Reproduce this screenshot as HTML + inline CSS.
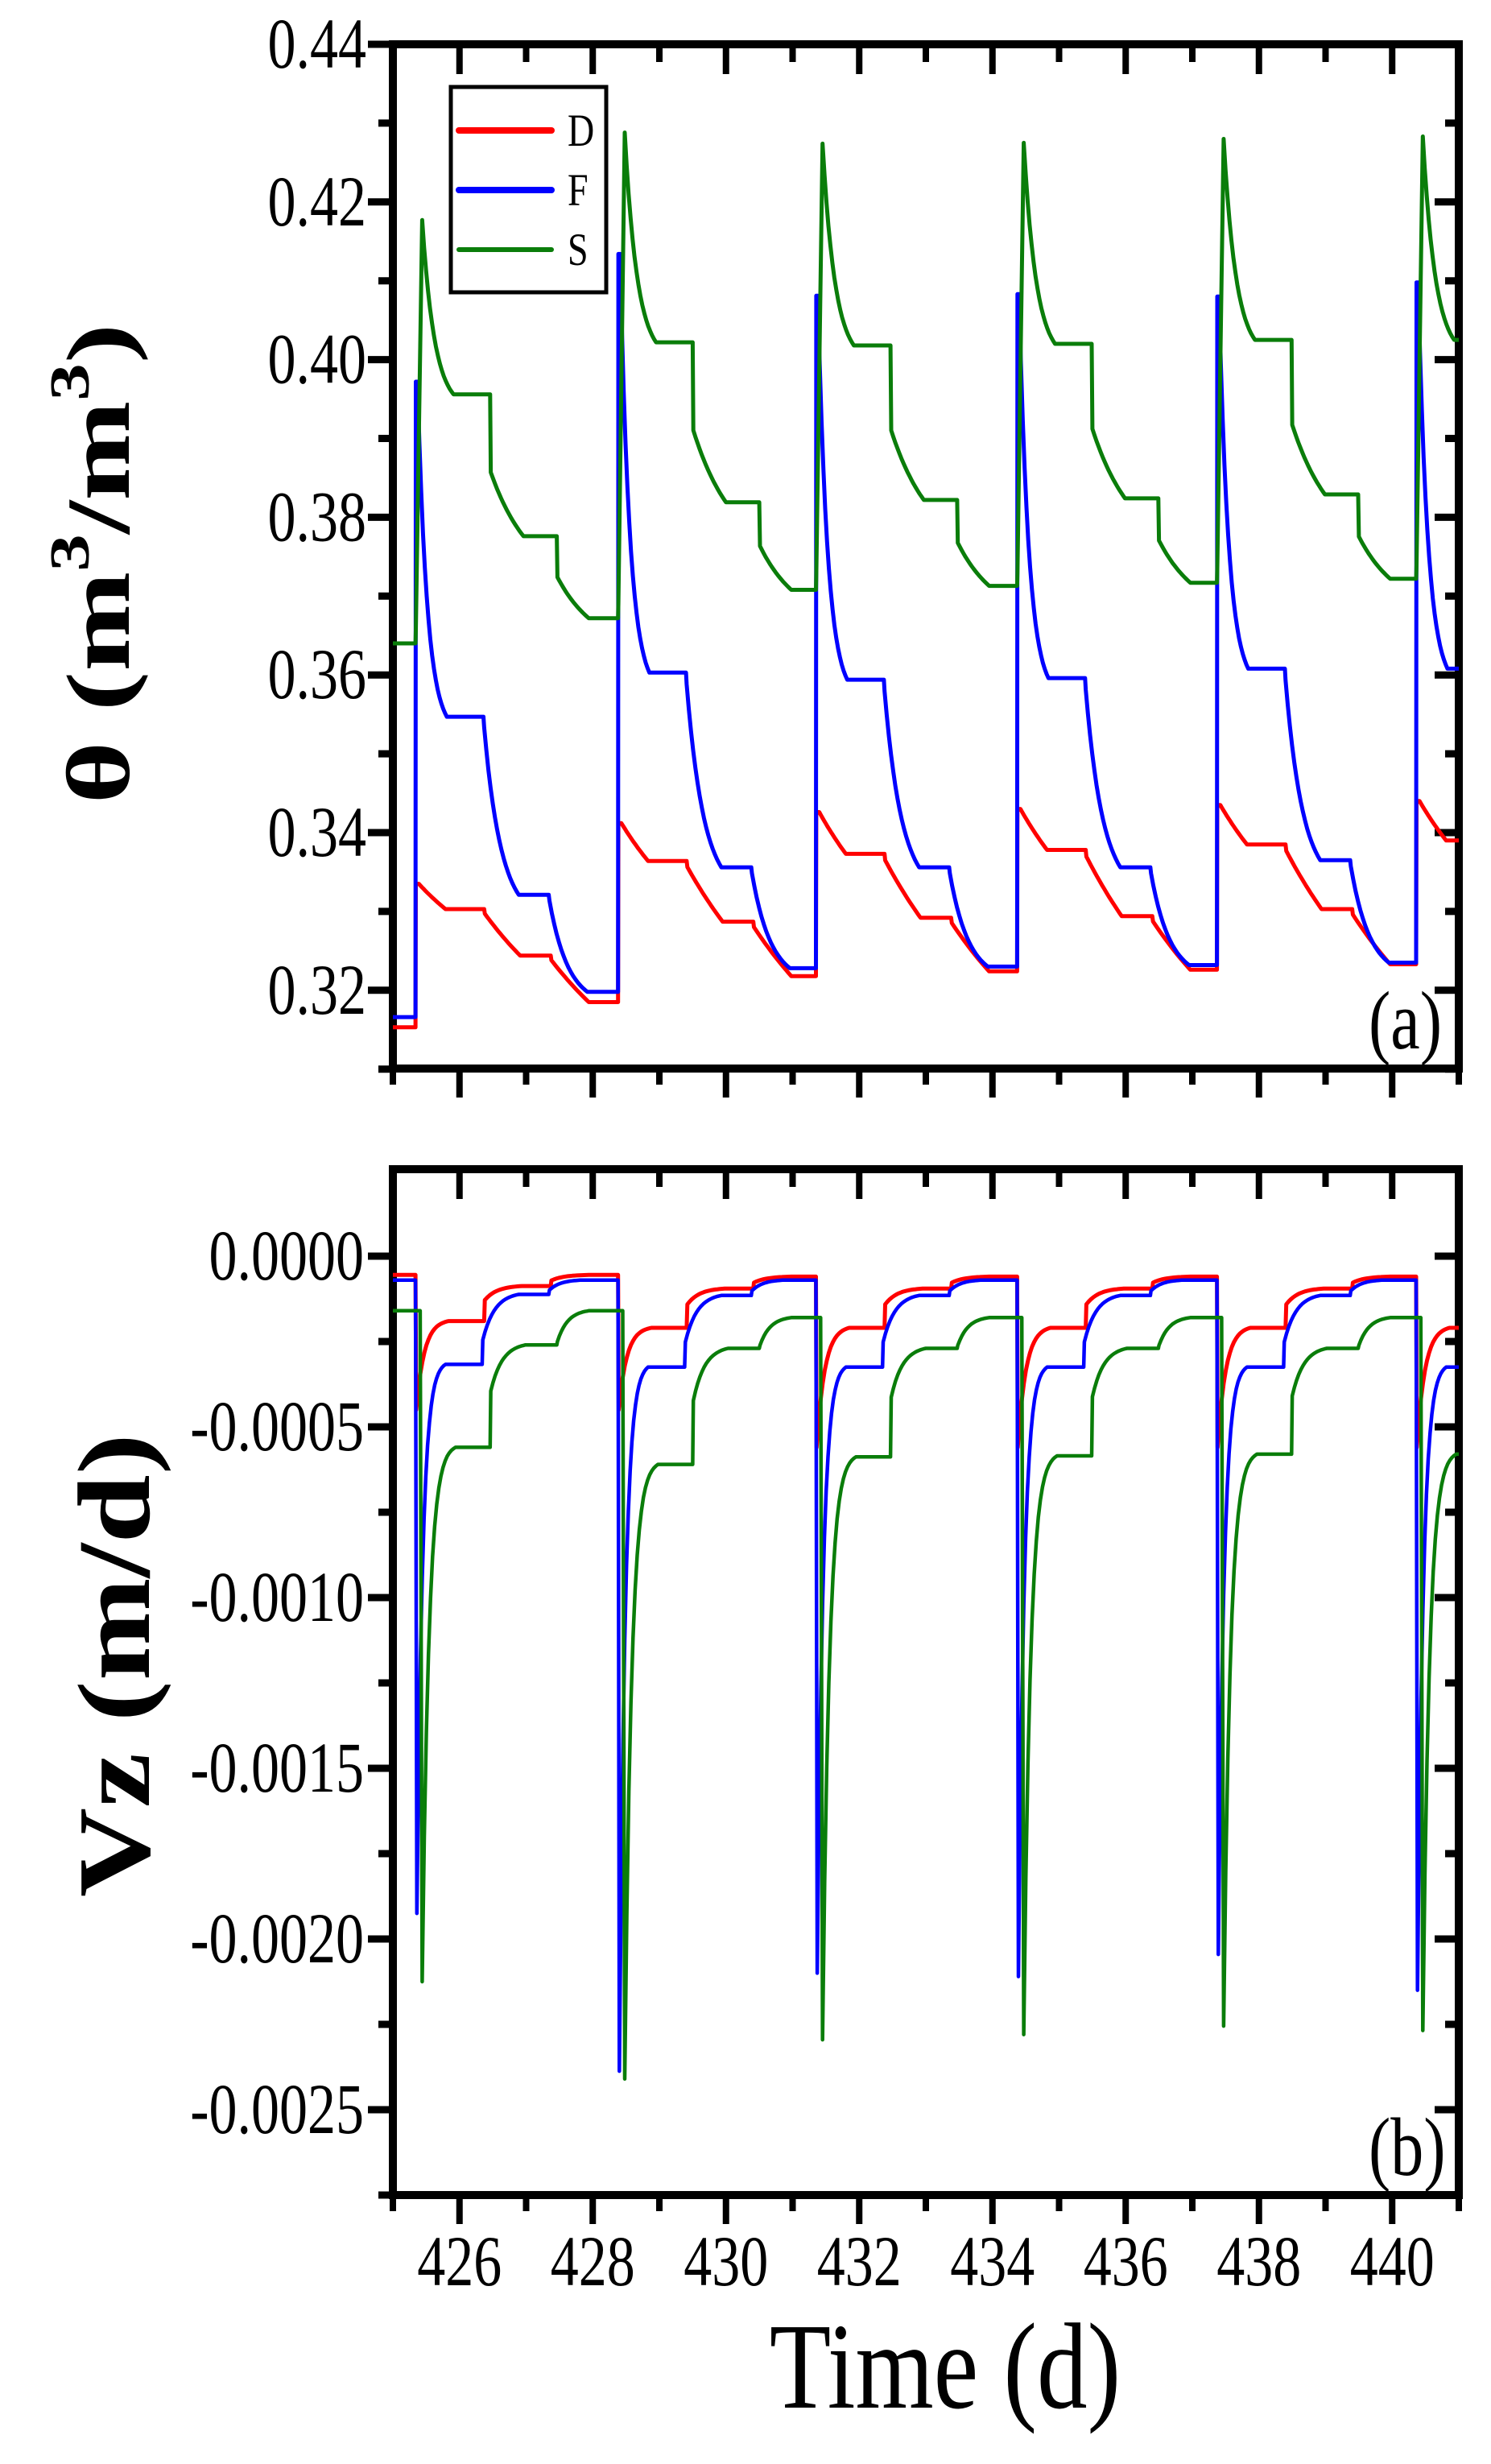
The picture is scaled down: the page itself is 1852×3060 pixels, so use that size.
<!DOCTYPE html>
<html><head><meta charset="utf-8"><style>
html,body{margin:0;padding:0;background:#fff;}
svg{display:block;}
text{font-family:"Liberation Serif","Times New Roman",serif;fill:#000;}
</style></head><body>
<svg id="fig" width="1852" height="3060" viewBox="0 0 1852 3060" xmlns="http://www.w3.org/2000/svg" font-family="Liberation Serif, serif">
<defs>
<clipPath id="clipA"><rect x="488" y="55" width="1324" height="1272"/></clipPath>
<clipPath id="clipB"><rect x="488" y="1452" width="1324" height="1274"/></clipPath>
</defs>
<g id="gA"></g>
<g id="gB"></g>
</svg>
<script>
// ---- data ----
const cycleStarts = [425.34, 428.38, 431.35, 434.37, 437.37, 440.36];
const xTicksMajor = [426, 428, 430, 432, 434, 436, 438, 440];
const xTickLabels = ["426","428","430","432","434","436","438","440"];
const thetaTicks = [0.32, 0.34, 0.36, 0.38, 0.40, 0.42, 0.44];
const thetaTickLabels = ["0.32","0.34","0.36","0.38","0.40","0.42","0.44"];
const vzTicks = [0, -0.0005, -0.001, -0.0015, -0.002, -0.0025];
const vzTickLabels = ["0.0000","-0.0005","-0.0010","-0.0015","-0.0020","-0.0025"];

// panel (a) theta, per cycle
const thetaInitD = 0.3153, thetaInitF = 0.3166, thetaInitS = 0.364;
const thetaPeakD = [0.3335, 0.3412, 0.3426, 0.3430, 0.3435, 0.3440];
const thetaP1D   = [0.3303, 0.3364, 0.3373, 0.3378, 0.3385, 0.3390];
const thetaP2D   = [0.3244, 0.3287, 0.3292, 0.3294, 0.3303, 0.3305];
const thetaMinD  = [0.3185, 0.3218, 0.3224, 0.3226, 0.3233, 0.3235];
const thetaPeakF = [0.3972, 0.4134, 0.4081, 0.4083, 0.4080, 0.4098];
const thetaP1F   = [0.3547, 0.3603, 0.3594, 0.3596, 0.3608, 0.3608];
const thetaP2F   = [0.3321, 0.3356, 0.3356, 0.3356, 0.3365, 0.3365];
const thetaMinF  = [0.3198, 0.3228, 0.3230, 0.3232, 0.3235, 0.3235];
const thetaPeakS = [0.4177, 0.4288, 0.4274, 0.4275, 0.4280, 0.4283];
const thetaP1S   = [0.3956, 0.4022, 0.4018, 0.4020, 0.4025, 0.4025];
const thetaP2S   = [0.3776, 0.3819, 0.3822, 0.3824, 0.3829, 0.3829];
const thetaMinS  = [0.3672, 0.3708, 0.3713, 0.3717, 0.3722, 0.3722];

// panel (b) Vz, per cycle
const vzInitD = -0.000055, vzInitF = -0.00007, vzInitS = -0.00016;
const vzMinD = [-0.00045, -0.00045, -0.00056, -0.00056, -0.00056, -0.00056];
const vzP1D  = [-0.00019, -0.00021, -0.00021, -0.00021, -0.00021, -0.00021];
const vzP2D  = [-0.0000875, -0.000095, -0.000095, -0.000095, -0.000095, -0.000095];
const vzP3D  = [-0.000055, -0.00006, -0.00006, -0.00006, -0.00006, -0.00006];
const vzMinF = [-0.001925, -0.002387, -0.0021, -0.00211, -0.002045, -0.00215];
const vzP1F  = [-0.000317, -0.000325, -0.000325, -0.000325, -0.000325, -0.000325];
const vzP2F  = [-0.000112, -0.000115, -0.000115, -0.000115, -0.000115, -0.000115];
const vzP3F  = [-0.00007, -0.00007, -0.00007, -0.00007, -0.00007, -0.00007];
const vzMinS = [-0.002125, -0.00241, -0.002295, -0.00228, -0.002255, -0.002268];
const vzP1S  = [-0.00056, -0.00061, -0.000588, -0.000585, -0.00058, -0.00058];
const vzP2S  = [-0.00026, -0.00027, -0.00027, -0.00027, -0.00027, -0.00027];
const vzP3S  = [-0.00016, -0.00018, -0.00018, -0.00018, -0.00018, -0.00018];

// ---- scales ----
const X0 = 488, X1 = 1812, T0 = 425, T1 = 441;
function xs(t){ return X0 + (t - T0) * (X1 - X0) / (T1 - T0); }
function ya(v){ return 55 + (0.44 - v) / 0.02 * 195.8; }
function yb(v){ return 1560 + (0 - v) / 0.0005 * 212; }

const NS = "http://www.w3.org/2000/svg";
function mk(tag, attrs, parent){
  const e = document.createElementNS(NS, tag);
  for (const k in attrs) e.setAttribute(k, attrs[k]);
  parent.appendChild(e);
  return e;
}
function decayPts(pts, t0, t1, v0, v1, k){
  const n = 16;
  for (let i = 1; i <= n; i++){
    const s = i / n;
    let f = (k < 0.01) ? s : (1 - Math.exp(-k * s)) / (1 - Math.exp(-k));
    pts.push([t0 + (t1 - t0) * s, v0 + (v1 - v0) * f]);
  }
}
function buildTheta(init, peak, p1, p2, mn, o){
  const pts = [[T0, init]];
  let prev = init;
  for (let i = 0; i < cycleStarts.length; i++){
    const T = cycleStarts[i];
    pts.push([T, prev]);
    pts.push([T + 0.005, peak[i] - (peak[i]-prev)*o.rise]);
    pts.push([T + o.pk, peak[i]]);
    decayPts(pts, T + o.pk, T + o.p1s, peak[i], p1[i], o.k1);
    pts.push([T + o.p1e, p1[i]]);
    const d1 = p1[i] + (p2[i]-p1[i]) * o.dr1;
    pts.push([T + o.p1e + 0.01, d1]);
    decayPts(pts, T + o.p1e + 0.01, T + o.p2s, d1, p2[i], o.k2);
    pts.push([T + o.p2e, p2[i]]);
    const d2 = p2[i] + (mn[i]-p2[i]) * o.dr2;
    pts.push([T + o.p2e + 0.01, d2]);
    decayPts(pts, T + o.p2e + 0.01, T + o.p3s, d2, mn[i], o.k3);
    prev = mn[i];
  }
  pts.push([T1 + 1, prev]);
  return pts;
}
function buildVz(init, mn, p1, p2, p3, o){
  const pts = [[T0, init]];
  let prev = init;
  for (let i = 0; i < cycleStarts.length; i++){
    const T = cycleStarts[i];
    pts.push([T + o.d0, prev]);
    pts.push([T + o.dm, mn[i]]);
    decayPts(pts, T + o.dm, T + o.p1s, mn[i], p1[i], o.k1);
    pts.push([T + o.p1e, p1[i]]);
    const j1 = p1[i] + (p2[i]-p1[i]) * o.j1;
    pts.push([T + o.p1e + 0.01, j1]);
    decayPts(pts, T + o.p1e + 0.01, T + o.p2s, j1, p2[i], o.k2);
    pts.push([T + o.p2e, p2[i]]);
    const j2 = p2[i] + (p3[i]-p2[i]) * o.j2;
    pts.push([T + o.p2e + 0.01, j2]);
    decayPts(pts, T + o.p2e + 0.01, T + o.p3s, j2, p3[i], o.k3);
    prev = p3[i];
  }
  pts.push([T1 + 1, prev]);
  return pts;
}
function toPath(pts, yf){
  return pts.map((p,i)=>(i?"L":"M")+xs(p[0]).toFixed(1)+","+yf(p[1]).toFixed(1)).join("");
}

const gA = document.getElementById("gA");
const gB = document.getElementById("gB");
const RED = "#ff0000", BLUE = "#0000ff", GREEN = "#0a7d0a";
const FONT = "Liberation Serif, Times New Roman, serif";

function drawFrame(g, top, bot, name){
  for (let d = 425; d <= 441; d++){
    const major = (d % 2 === 0);
    const x = xs(d);
    const t1 = mk("line", {x1:x, y1:top, x2:x, y2: top + (major?37:22), stroke:"#000","stroke-width":8}, g);
    
    
    const t2 = mk("line", {x1:x, y1:bot, x2:x, y2: bot + (major?36:20), stroke:"#000","stroke-width":8}, g);
    
    
  }
  const r = mk("rect", {x:X0, y:top, width:X1-X0, height:bot-top, fill:"none", stroke:"#000", "stroke-width":10}, g);
  
  
}
function yTick(g, y, major){
  const a = mk("line", {x1:X0 - (major?31:18), y1:y, x2:X0, y2:y, stroke:"#000","stroke-width":9}, g);
  
  
  const b = mk("line", {x1:X1, y1:y, x2:X1 - (major?30:17), y2:y, stroke:"#000","stroke-width":9}, g);
  
  
}
function label(g, txt, x, y, size, anchor, sy, name){
  const t = mk("text", {x:0, y:0, "font-size":size, "text-anchor":anchor, "font-family":FONT,
    transform:"translate("+x+","+y+") scale(1,"+sy+")"}, g);
  t.textContent = txt;
  
  
  return t;
}

// ---------- panel A ----------
drawFrame(gA, 55, 1327, "panel-a");
for (let i = 0; i < thetaTicks.length; i++){
  yTick(gA, ya(thetaTicks[i]), true);
  label(gA, thetaTickLabels[i], 455, ya(thetaTicks[i]) + 29, 70, "end", 1.27, "y-tick-label");
}
for (let v = 0.31; v < 0.44; v += 0.02) yTick(gA, ya(v), false);

const linesA = mk("g", {"clip-path":"url(#clipA)", fill:"none", "stroke-linejoin":"round"}, gA);
const oD = {rise:0, pk:0.05, k1:0.3, p1s:0.45, p1e:1.03, dr1:0.1, k2:0.3, p2s:1.57, p2e:2.03, dr2:0.1, k3:0.3, p3s:2.6};
const oF = {rise:0, pk:0.03, k1:3, p1s:0.47, p1e:1.02, dr1:0.06, k2:2, p2s:1.55, p2e:2.0, dr2:0.06, k3:2, p3s:2.58};
const oS = {rise:0.97, pk:0.1, k1:2.5, p1s:0.57, p1e:1.12, dr1:0.55, k2:0.8, p2s:1.62, p2e:2.12, dr2:0.5, k3:0.8, p3s:2.6};
const pD = mk("path", {d: toPath(buildTheta(thetaInitD, thetaPeakD, thetaP1D, thetaP2D, thetaMinD, oD), ya), stroke:RED, "stroke-width":5}, linesA);


const pF = mk("path", {d: toPath(buildTheta(thetaInitF, thetaPeakF, thetaP1F, thetaP2F, thetaMinF, oF), ya), stroke:BLUE, "stroke-width":5}, linesA);


const pS = mk("path", {d: toPath(buildTheta(thetaInitS, thetaPeakS, thetaP1S, thetaP2S, thetaMinS, oS), ya), stroke:GREEN, "stroke-width":5}, linesA);



// legend
const lg = mk("g", {}, gA);


const lr = mk("rect", {x:560, y:108, width:193, height:255, fill:"#fff", stroke:"#000", "stroke-width":5}, lg);


const legNames = ["D","F","S"], legCols = [RED, BLUE, GREEN], legY = [162, 236, 310];
for (let i = 0; i < 3; i++){
  const l = mk("line", {x1:570, y1:legY[i], x2:685, y2:legY[i], stroke:legCols[i], "stroke-width": i<2?8:6, "stroke-linecap":"round"}, lg);
  
  
  label(lg, legNames[i], 705, legY[i] + 19, 46, "start", 1.25, "legend-label-" + legNames[i].toLowerCase());
}
label(gA, "(a)", 1700, 1302, 82, "start", 1.25, "panel-a-label");

// y title A
const ta = mk("text", {x:0, y:0, "font-size":112, "font-weight":"bold", "text-anchor":"middle", "font-family":FONT,
  transform:"translate(160,700) rotate(-90) scale(1.33,1)"}, gA);


ta.innerHTML = 'θ (m<tspan font-size="70" dy="-50">3</tspan><tspan dy="50">/m</tspan><tspan font-size="70" dy="-50">3</tspan><tspan dy="50">)</tspan>';

// ---------- panel B ----------
drawFrame(gB, 1452, 2726, "panel-b");
for (let i = 0; i < vzTicks.length; i++){
  yTick(gB, yb(vzTicks[i]), true);
  label(gB, vzTickLabels[i], 452, yb(vzTicks[i]) + 29, 70, "end", 1.27, "y-tick-label");
}
for (let v = -0.00025; v > -0.0028; v -= 0.0005) yTick(gB, yb(v), false);

const linesB = mk("g", {"clip-path":"url(#clipB)", fill:"none", "stroke-linejoin":"round"}, gB);
const vD = {d0:0, dm:0.01, k1:4, p1s:0.5, p1e:1.03, j1:0.6, k2:3, p2s:1.6, p2e:2.03, j2:0.5, k3:3, p3s:2.6};
const vF = {d0:0, dm:0.02, k1:5, p1s:0.45, p1e:1.0, j1:0.35, k2:3, p2s:1.55, p2e:2.0, j2:0.3, k3:3, p3s:2.5};
const vS = {d0:0.07, dm:0.1, k1:5, p1s:0.6, p1e:1.12, j1:0.55, k2:3, p2s:1.65, p2e:2.12, j2:0.1, k3:3, p3s:2.6};
const qD = mk("path", {d: toPath(buildVz(vzInitD, vzMinD, vzP1D, vzP2D, vzP3D, vD), yb), stroke:RED, "stroke-width":5}, linesB);


const qF = mk("path", {d: toPath(buildVz(vzInitF, vzMinF, vzP1F, vzP2F, vzP3F, vF), yb), stroke:BLUE, "stroke-width":4.5}, linesB);


const qS = mk("path", {d: toPath(buildVz(vzInitS, vzMinS, vzP1S, vzP2S, vzP3S, vS), yb), stroke:GREEN, "stroke-width":4.5}, linesB);



label(gB, "(b)", 1700, 2701, 82, "start", 1.25, "panel-b-label");
for (let i = 0; i < xTicksMajor.length; i++){
  label(gB, xTickLabels[i], xs(xTicksMajor[i]), 2838, 70, "middle", 1.27, "x-tick-label");
}
label(gB, "Time (d)", 1174, 2990, 125, "middle", 1.22, "x-axis-title");

const tb = mk("text", {x:0, y:0, "font-size":128, "font-weight":"bold", "text-anchor":"middle", "font-family":FONT,
  transform:"translate(185,2068) rotate(-90) scale(1.2,1)"}, gB);


tb.textContent = "Vz (m/d)";
</script>
</body></html>
